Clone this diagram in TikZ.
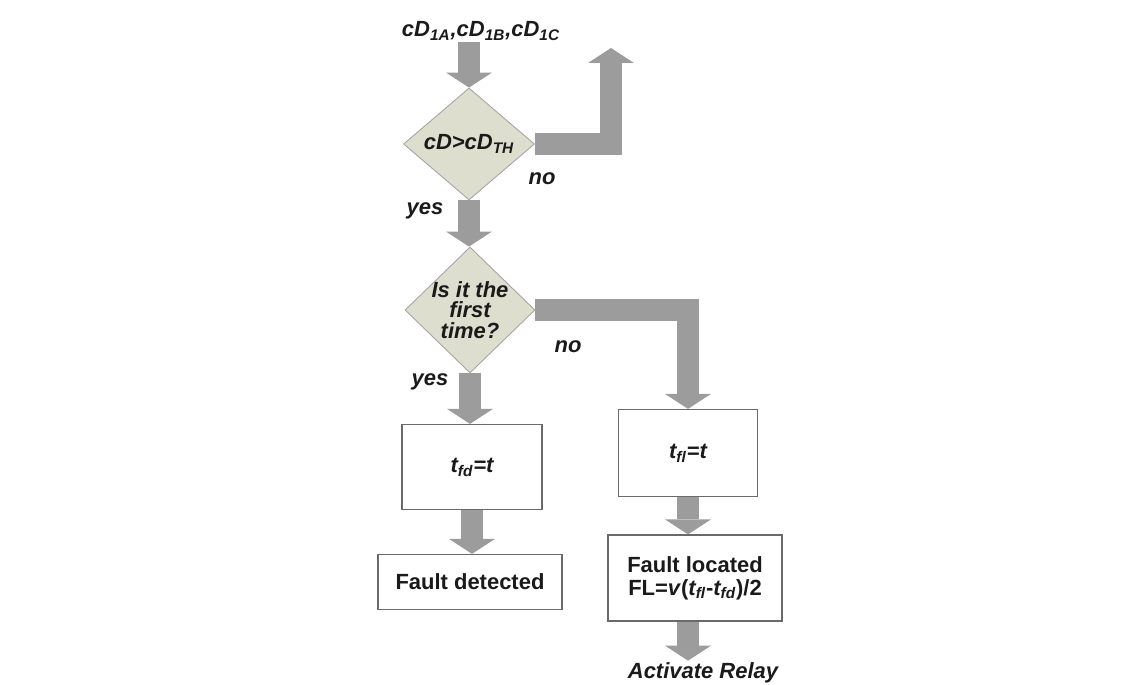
\documentclass[tikz,border=0pt]{standalone}
\usepackage{fontspec}
\setmainfont{Liberation Sans}
\usepackage{tikz}
\usepackage{xcolor}
\usetikzlibrary{arrows.meta,positioning,shapes.geometric}
\definecolor{ink}{HTML}{1A1A1A}
\definecolor{flowgray}{HTML}{9C9C9C}
\definecolor{cond}{HTML}{DEDECF}
\definecolor{condedge}{HTML}{A4A4A4}
\definecolor{frame}{HTML}{6A6A6A}
\tikzset{
  decision/.style={diamond, draw=condedge, fill=cond, line width=0.5pt, inner sep=-4pt,
                   align=center, text=ink, font=\bfseries\itshape\fontsize{12.5}{11.5}\selectfont},
  block/.style={rectangle, draw=frame, fill=white, line width=0.7pt, inner sep=0pt,
                align=center, text=ink, font=\bfseries\fontsize{12.5}{13}\selectfont},
  flow/.style={draw=flowgray, line width=0.44cm,
               -{Triangle[length=0.3cm,width=0.92cm,line width=0pt]}},
  lbl/.style={text=ink, inner sep=1pt, font=\bfseries\itshape\fontsize{12.5}{13}\selectfont}
}
\begin{document}
\begin{tikzpicture}[x=0.02cm,y=-0.02cm]
        \useasboundingbox[fill=white] (0,0) rectangle (1143,685);
        \node[lbl] (inp) at (481,31) {cD\textsubscript{1A},cD\textsubscript{1B},cD\textsubscript{1C}};
        \node[decision,minimum width=2.62cm,minimum height=2.24cm] (d1) at (469,144)
          {cD>cD\textsubscript{TH}};
        \node[decision,minimum width=2.6cm,minimum height=2.52cm] (d2) at (470,310)
          {Is it the\\first\\time?};
        \node[block,minimum width=2.8cm,minimum height=1.7cm,font=\bfseries\itshape\fontsize{12.5}{13}\selectfont] (tfd) at (472,467)
          {t\textsubscript{fd}=t};
        \node[block,minimum width=2.78cm,minimum height=1.74cm,font=\bfseries\itshape\fontsize{12.5}{13}\selectfont] (tfl) at (688,453)
          {t\textsubscript{fl}=t};
        \node[block,minimum width=3.68cm,minimum height=1.1cm] (det) at (470,582) {Fault detected};
        \node[block,minimum width=3.48cm,minimum height=1.72cm] (loc) at (695,578)
          {Fault located\\FL=\textit{v}(\textit{t\textsubscript{fl}}-\textit{t\textsubscript{fd}})/2};
        \node[lbl] (relay) at (703,673) {Activate Relay};
        \coordinate (ret) at (611,48);
        \node[lbl] (no1) at (542,179) {no};
        \node[lbl] (yes1) at (425,211) {yes};
        \node[lbl] (no2) at (568,347) {no};
        \node[lbl] (yes2) at (430,382) {yes};
        \draw[flow] (d1.north |- inp.south) -- (d1.north);
        \draw[flow] (d1.south) -- (d1.south |- d2.north);
        \draw[flow] (d1.east) -- (d1.east -| ret) -- (ret);
        \draw[flow] (d2.south) -- (d2.south |- tfd.north);
        \draw[flow] (d2.east) -| (tfl.north);
        \draw[flow] (tfd.south) -- (tfd.south |- det.north);
        \draw[flow] (tfl.south) -- (tfl.south |- loc.north);
        \draw[flow] (tfl.south |- loc.south) -- (tfl.south |- relay.north);
      \end{tikzpicture}
\end{document}
